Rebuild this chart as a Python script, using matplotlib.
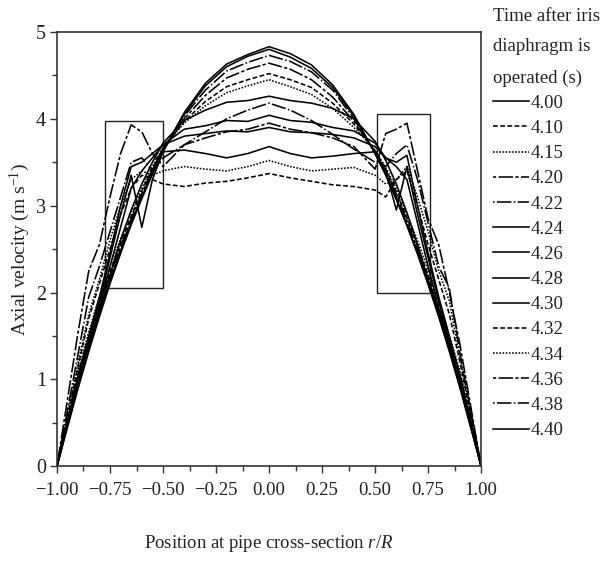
import matplotlib
matplotlib.use('Agg')
import matplotlib.pyplot as plt
from matplotlib.patches import Rectangle
from matplotlib.ticker import MultipleLocator

plt.rcParams['font.family'] = ['Liberation Serif', 'DejaVu Serif']
plt.rcParams['mathtext.fontset'] = 'custom'
plt.rcParams['mathtext.rm'] = 'Liberation Serif'
plt.rcParams['mathtext.it'] = 'Liberation Serif:italic'

# positions r/R shared by every profile
x = [-1.0, -0.9, -0.85, -0.8, -0.75, -0.7, -0.65, -0.6, -0.55, -0.5,
     -0.4, -0.3, -0.2, -0.1, 0.0, 0.1, 0.2, 0.3, 0.4,
     0.5, 0.55, 0.6, 0.65, 0.7, 0.75, 0.8, 0.85, 0.9, 1.0]

times = ['4.00', '4.10', '4.15', '4.20', '4.22', '4.24', '4.26',
         '4.28', '4.30', '4.32', '4.34', '4.36', '4.38', '4.40']

# axial velocity (m/s) for each time
v400 = [0, 0.95, 1.36, 1.76, 2.13, 2.48, 2.80, 3.10, 3.38, 3.63, 4.07, 4.41, 4.63, 4.74, 4.83,
        4.75, 4.62, 4.39, 4.05, 3.60, 3.35, 3.07, 2.77, 2.44, 2.09, 1.72, 1.32, 0.90, 0]
v410 = [0, 1.05, 1.50, 1.88, 2.24, 2.57, 2.88, 3.17, 3.43, 3.66, 3.97, 4.20, 4.37, 4.45, 4.52,
        4.45, 4.36, 4.18, 3.94, 3.63, 3.42, 3.16, 2.86, 2.54, 2.20, 1.84, 1.45, 1.05, 0]
v415 = [0, 1.10, 1.55, 1.95, 2.30, 2.62, 2.93, 3.20, 3.45, 3.67, 3.95, 4.15, 4.30, 4.38, 4.45,
        4.37, 4.28, 4.12, 3.90, 3.64, 3.44, 3.20, 2.90, 2.60, 2.26, 1.90, 1.50, 1.10, 0]
v420 = [0, 1.55, 2.25, 2.55, 3.10, 3.60, 3.93, 3.85, 3.60, 3.45, 3.70, 3.78, 3.85, 3.88, 3.95,
        3.88, 3.84, 3.78, 3.68, 3.42, 3.83, 3.88, 3.95, 3.40, 2.85, 2.55, 2.00, 1.40, 0]
v422 = [0, 1.30, 1.95, 2.30, 2.70, 3.10, 3.50, 3.55, 3.40, 3.55, 3.70, 3.85, 4.00, 4.10, 4.18,
        4.10, 3.98, 3.82, 3.65, 3.50, 3.45, 3.60, 3.70, 3.30, 2.80, 2.30, 2.05, 1.30, 0]
v424 = [0, 0.98, 1.40, 1.80, 2.20, 2.60, 2.95, 3.25, 3.50, 3.72, 3.98, 4.10, 4.19, 4.21, 4.26,
        4.21, 4.18, 4.12, 4.00, 3.74, 3.52, 3.25, 2.92, 2.55, 2.15, 1.78, 1.38, 0.97, 0]
v426 = [0, 1.00, 1.45, 1.85, 2.30, 2.75, 3.20, 3.40, 3.55, 3.70, 3.88, 3.92, 3.98, 3.97, 4.04,
        3.98, 3.96, 3.90, 3.86, 3.72, 3.55, 3.45, 3.30, 2.80, 2.30, 1.82, 1.42, 1.00, 0]
v428 = [0, 1.05, 1.50, 1.95, 2.45, 3.00, 3.45, 3.50, 3.60, 3.70, 3.80, 3.83, 3.86, 3.85, 3.90,
        3.85, 3.84, 3.82, 3.78, 3.68, 3.55, 3.50, 3.58, 3.00, 2.45, 1.95, 1.50, 1.05, 0]
v430 = [0, 1.00, 1.45, 1.90, 2.40, 2.90, 3.35, 2.75, 3.30, 3.62, 3.64, 3.60, 3.55, 3.60, 3.68,
        3.60, 3.55, 3.57, 3.60, 3.62, 3.40, 2.95, 3.45, 2.90, 2.40, 1.90, 1.45, 1.00, 0]
v432 = [0, 1.15, 1.70, 2.10, 2.50, 2.90, 3.20, 3.35, 3.30, 3.25, 3.22, 3.26, 3.28, 3.32, 3.37,
        3.32, 3.28, 3.24, 3.22, 3.18, 3.10, 3.30, 3.40, 3.00, 2.55, 2.15, 1.75, 1.20, 0]
v434 = [0, 1.20, 1.75, 2.15, 2.60, 3.00, 3.30, 3.40, 3.35, 3.40, 3.45, 3.42, 3.40, 3.45, 3.52,
        3.45, 3.40, 3.42, 3.44, 3.35, 3.25, 3.30, 3.45, 3.10, 2.70, 2.25, 1.90, 1.25, 0]
v436 = [0, 1.00, 1.45, 1.83, 2.20, 2.53, 2.85, 3.14, 3.41, 3.65, 4.00, 4.27, 4.47, 4.57, 4.64,
        4.57, 4.45, 4.25, 3.97, 3.62, 3.40, 3.13, 2.83, 2.50, 2.16, 1.80, 1.40, 1.00, 0]
v438 = [0, 0.98, 1.40, 1.80, 2.17, 2.50, 2.82, 3.12, 3.40, 3.64, 4.03, 4.33, 4.55, 4.65, 4.73,
        4.66, 4.54, 4.33, 4.00, 3.60, 3.37, 3.10, 2.80, 2.48, 2.14, 1.77, 1.37, 0.96, 0]
v440 = [0, 0.90, 1.32, 1.72, 2.10, 2.45, 2.78, 3.08, 3.36, 3.62, 4.05, 4.38, 4.60, 4.72, 4.80,
        4.71, 4.58, 4.36, 4.03, 3.60, 3.36, 3.08, 2.78, 2.46, 2.11, 1.74, 1.34, 0.93, 0]

profiles = [v400, v410, v415, v420, v422, v424, v426,
            v428, v430, v432, v434, v436, v438, v440]

solid = '-'
dash = (0, (3, 1.5))
dot = (0, (1, 1))
dashlong = (0, (2, 1.5, 9, 1.5))
dashdot = (0, (1, 1.5, 9, 1.5))
styles = [solid, dash, dot, dashlong, dashdot, solid, solid,
          solid, solid, dash, dot, dashlong, dashdot, solid]

fig = plt.figure(figsize=(6.06, 5.70), dpi=100)
ax = fig.add_axes([0.094, 0.182, 0.700, 0.762])

for v, t, ls in zip(profiles, times, styles):
    ax.plot(x, v, color='black', lw=1.15, linestyle=ls, label=t)

# highlighted regions near the wall
ax.add_patch(Rectangle((-0.775, 2.05), 0.275, 1.92, fill=False, ec='#222222', lw=1.0))
ax.add_patch(Rectangle((0.51, 2.0), 0.25, 2.05, fill=False, ec='#222222', lw=1.0))

ax.set_xlim(-1, 1)
ax.set_ylim(0, 5)
ax.xaxis.set_minor_locator(MultipleLocator(0.125))
ax.yaxis.set_major_locator(MultipleLocator(1))
ax.yaxis.set_minor_locator(MultipleLocator(0.5))
ax.set_xticks([-1, -0.75, -0.5, -0.25, 0, 0.25, 0.5, 0.75, 1])
ax.set_xticklabels(['\u22121.00', '\u22120.75', '\u22120.50', '\u22120.25', '0.00',
                    '0.25', '0.50', '0.75', '1.00'])
ax.tick_params(which='major', direction='out', length=5, width=1, labelsize=13.5,
               color='#333333', labelcolor='#222222')
ax.tick_params(axis='x', which='major', pad=6)
ax.tick_params(axis='y', which='major', pad=3, labelsize=14.5)
ax.tick_params(which='minor', direction='out', length=3.5, width=1, color='#333333')
for s in ax.spines.values():
    s.set_color('#333333')
    s.set_linewidth(1.2)

ax.set_xlabel('Position at pipe cross-section $r/R$', fontsize=13.5, color='#222222', labelpad=25)
ax.set_ylabel('Axial velocity (m s$^{-1}$)', fontsize=14, color='#222222', labelpad=3)

leg = ax.legend(title='Time after iris\ndiaphragm is\noperated (s)',
                loc='upper left', bbox_to_anchor=(0.808, 0.993), bbox_transform=fig.transFigure,
                frameon=False, fontsize=13.5, title_fontsize=13.5,
                handlelength=1.9, handletextpad=0.1, labelspacing=0.43,
                borderaxespad=0, borderpad=0.2)
leg._legend_box.align = 'left'
leg.get_title().set_linespacing(2.05)
leg.get_title().set_color('#222222')
for txt in leg.get_texts():
    txt.set_color('#222222')

plt.savefig('out.png', dpi=100)
